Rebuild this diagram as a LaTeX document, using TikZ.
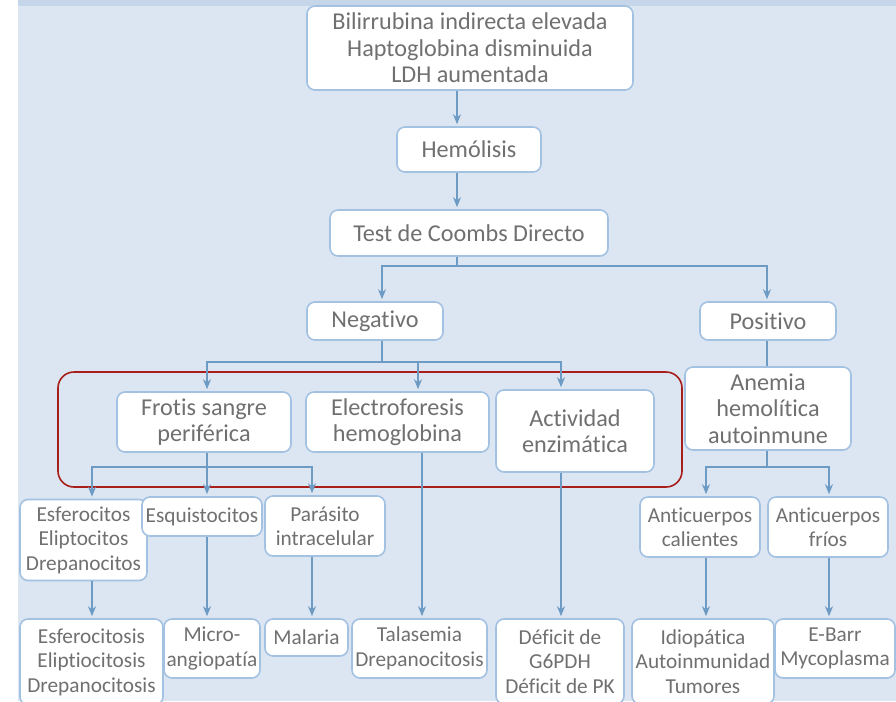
\documentclass[tikz,border=0pt]{standalone}
\usepackage{fontspec}
\setmainfont{Carlito}[Ligatures=NoCommon]
\usetikzlibrary{positioning,arrows.meta}
\definecolor{paneBlue}{HTML}{DCE6F2}
\definecolor{stripBlue}{HTML}{C5D6EB}
\definecolor{boxLine}{HTML}{A3C2E2}
\definecolor{arrowBlue}{HTML}{6E9BC4}
\definecolor{textGray}{HTML}{707070}
\definecolor{frameRed}{HTML}{A71E1A}
\tikzset{
    bluebox/.style={draw=boxLine,fill=white,rounded corners=8pt,line width=1.6pt,
        inner sep=0pt,align=center,text=textGray,font=\fontsize{24.2}{26.5}\selectfont},
    smallbox/.style={bluebox,font=\fontsize{21.3}{24.5}\selectfont},
    arrow/.style={-{Stealth[length=10pt,width=8pt]},draw=arrowBlue,line width=1.8pt,
        shorten >=2pt},
    link/.style={draw=arrowBlue,line width=1.8pt},
    groupframe/.style={draw=frameRed,line width=1.6pt,rounded corners=16pt}
}

\begin{document}
\begin{tikzpicture}[x=1pt,y=-1pt]
    \useasboundingbox (0,0) rectangle (896,701);
    \fill[paneBlue] (18,0) rectangle (896,701);
    \fill[stripBlue] (18,0) rectangle (896,6);
    \draw[groupframe] (58,372) rectangle (682,487);

    \node[bluebox,minimum width=326pt,minimum height=84pt] (bili) at (470,48)
        {Bilirrubina indirecta elevada\\Haptoglobina disminuida\\LDH aumentada};
    \node[bluebox,minimum width=144pt,minimum height=45pt] (hemo) at (469,149.5) {Hemólisis};
    \node[bluebox,minimum width=278pt,minimum height=46pt] (coombs) at (469,233) {Test de Coombs Directo};
    \node[bluebox,minimum width=136pt,minimum height=38pt] (neg) at (375,321) {Negativo};
    \node[bluebox,minimum width=136pt,minimum height=38pt] (pos) at (768,321) {Positivo};

    \node[bluebox,minimum width=174pt,minimum height=60pt] (frotis) at (204,422)
        {Frotis sangre\\periférica};
    \node[bluebox,minimum width=183pt,minimum height=60pt] (electro) at (397.5,422)
        {Electroforesis\\hemoglobina};
    \node[bluebox,minimum width=158pt,minimum height=82pt] (activ) at (575,431)
        {Actividad\\enzimática};
    \node[bluebox,minimum width=166pt,minimum height=83pt] (anemia) at (768,408.5)
        {Anemia\\hemolítica\\autoinmune};

    \node[smallbox,minimum width=127pt,minimum height=81pt] (esfero) at (83.5,540)
        {Esferocitos\\Eliptocitos\\Drepanocitos};
    \node[smallbox,minimum width=120pt,minimum height=39pt] (esquis) at (202,516.5) {Esquistocitos};
    \node[smallbox,minimum width=120pt,minimum height=60pt] (parasito) at (325,526)
        {Parásito\\intracelular};
    \node[smallbox,minimum width=120pt,minimum height=60pt] (calientes) at (700,527)
        {Anticuerpos\\calientes};
    \node[smallbox,minimum width=120pt,minimum height=60pt] (frios) at (828,527)
        {Anticuerpos\\fríos};

    \node[smallbox,minimum width=143pt,minimum height=86pt] (esferosis) at (91.5,662)
        {Esferocitosis\\Eliptiocitosis\\Drepanocitosis};
    \node[smallbox,minimum width=96pt,minimum height=59pt] (micro) at (212,648.5)
        {Micro-\\angiopatía};
    \node[smallbox,minimum width=83pt,minimum height=37pt] (malaria) at (306.5,637.5) {Malaria};
    \node[smallbox,minimum width=135pt,minimum height=59pt] (talasemia) at (419.5,648.5)
        {Talasemia\\Drepanocitosis};
    \node[smallbox,minimum width=128pt,minimum height=85pt] (deficit) at (560,661.5)
        {Déficit de\\G6PDH\\Déficit de PK};
    \node[smallbox,minimum width=142pt,minimum height=85pt] (idiop) at (703,661.5)
        {Idiopática\\Autoinmunidad\\Tumores};
    \node[smallbox,minimum width=120pt,minimum height=59pt] (ebarr) at (835,648.5)
        {E-Barr\\Mycoplasma};

    \coordinate (spine) at (457,0);
    \coordinate (negline) at (382,0);
    \coordinate (posline) at (767,0);
    \coordinate (frotisline) at (207,0);
    \coordinate (electrotop) at (418,0);
    \coordinate (electroline) at (422,0);
    \coordinate (activline) at (561,0);
    \coordinate (esferoline) at (92,0);
    \coordinate (parasitoline) at (312,0);
    \coordinate (calientesline) at (706,0);
    \coordinate (friosline) at (829,0);
    \coordinate (coombsfork) at (457,266);
    \coordinate (negfork) at (382,362);
    \coordinate (frotisfork) at (207,467);
    \coordinate (anemiafork) at (767,467);

    \draw[arrow] (bili.south -| spine) -- (hemo.north -| spine);
    \draw[arrow] (hemo.south -| spine) -- (coombs.north -| spine);
    \draw[link] (coombs.south -| spine) -- (coombsfork);
    \draw[arrow] (coombsfork) -| (neg.north -| negline);
    \draw[arrow] (coombsfork) -| (pos.north -| posline);

    \draw[link] (neg.south -| negline) -- (negfork);
    \draw[arrow] (negfork) -| (frotis.north -| frotisline);
    \draw[arrow] (negfork) -| (electro.north -| electrotop);
    \draw[arrow] (negfork) -| (activ.north -| activline);
    \draw[link] (pos.south -| posline) -- (anemia.north -| posline);

    \draw[link] (frotis.south -| frotisline) -- (frotisfork);
    \draw[arrow] (frotisfork) -| (esfero.north -| esferoline);
    \draw[arrow] (frotisfork) -- (esquis.north -| frotisline);
    \draw[arrow] (frotisfork) -| (parasito.north -| parasitoline);
    \draw[link] (anemia.south -| posline) -- (anemiafork);
    \draw[arrow] (anemiafork) -| (calientes.north -| calientesline);
    \draw[arrow] (anemiafork) -| (frios.north -| friosline);

    \draw[arrow] (esfero.south -| esferoline) -- (esferosis.north -| esferoline);
    \draw[arrow] (esquis.south -| frotisline) -- (micro.north -| frotisline);
    \draw[arrow] (parasito.south -| parasitoline) -- (malaria.north -| parasitoline);
    \draw[arrow] (electro.south -| electroline) -- (talasemia.north -| electroline);
    \draw[arrow] (activ.south -| activline) -- (deficit.north -| activline);
    \draw[arrow] (calientes.south -| calientesline) -- (idiop.north -| calientesline);
    \draw[arrow] (frios.south -| friosline) -- (ebarr.north -| friosline);
\end{tikzpicture}
\end{document}
